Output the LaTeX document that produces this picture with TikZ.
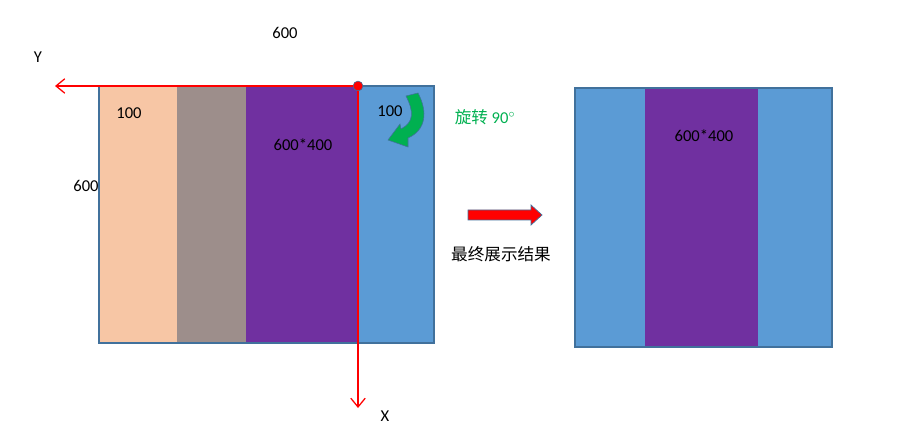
\documentclass[tikz,border=0pt]{standalone}
\usepackage{fontspec}
\setmainfont{Carlito}
\newfontfamily\cjk{Noto Sans CJK SC}
\usetikzlibrary{arrows.meta, positioning}
\definecolor{peach}{HTML}{F7C6A5}
\definecolor{taupe}{HTML}{9D8E8B}
\definecolor{violet}{HTML}{7030A0}
\definecolor{skyblue}{HTML}{5B9BD5}
\definecolor{edgeblue}{HTML}{41719C}
\definecolor{turngreen}{HTML}{00B050}

\begin{document}
\begin{tikzpicture}[
    x=0.025cm, y=-0.025cm,
    font=\fontsize{11.8}{13}\selectfont,
    frame/.style={draw=edgeblue, line width=0.9pt},
    axis/.style={-{Straight Barb[length=2.2mm, width=3.6mm]}, red, line width=0.9pt},
    label/.style={inner sep=1pt}
]
\useasboundingbox (0,0) rectangle (918,432);

% left: before turning
\fill[peach]   (99,86) rectangle (177,343);
\fill[taupe]   (177,86) rectangle (246,343);
\fill[violet]  (246,86) rectangle (358,343);
\fill[skyblue] (358,86) rectangle (434,343);
\draw[frame] (99,86) rectangle (434,343);

\node[label] (w) at (285,33) {600};
\node[label] (h) at (86,186) {600};
\node[label] (a) at (129,113) {100};
\node[label] (mid) at (303,145) {600*400};
\node[label] (b) at (390,111) {100};

% axes
\node[circle, fill=red, draw=edgeblue, line width=0.4pt, inner sep=0pt, minimum size=7pt] (o) at (358,86) {};
\coordinate (yend) at (55,86);
\coordinate (xend) at (358,408);
\draw[axis] (o) -- (yend);
\draw[axis] (o) -- (xend);
\node[label] (ylab) at (38,57) {Y};
\node[label] (xlab) at (385,416) {X};

% turning arrow
\filldraw[fill=turngreen, draw=edgeblue, line width=0.4pt]
  (406,96) -- (418,93) .. controls (428,112) and (426,130) .. (408,138)
  -- (408,147) -- (388,140) -- (400,124) -- (401,129)
  .. controls (414,122) and (414,112) .. (406,96) -- cycle;
\node[label, text=turngreen] (turn) at (485,117) {{\cjk 旋转} 90$^{\circ}$};

% result arrow
\filldraw[fill=red, draw=edgeblue, line width=0.5pt]
  (468,210) -- (531,210) -- (531,205) -- (542,215) -- (531,225) -- (531,220) -- (468,220) -- cycle;
\node[label] (res) at (501,254) {\cjk 最终展示结果};

% right: shown result
\fill[skyblue] (575,88) rectangle (645,347);
\fill[violet]  (645,88) rectangle (758,347);
\fill[skyblue] (758,88) rectangle (832,347);
\draw[frame] (575,88) rectangle (832,347);
\node[label] (mid2) at (704,136) {600*400};
\end{tikzpicture}
\end{document}
